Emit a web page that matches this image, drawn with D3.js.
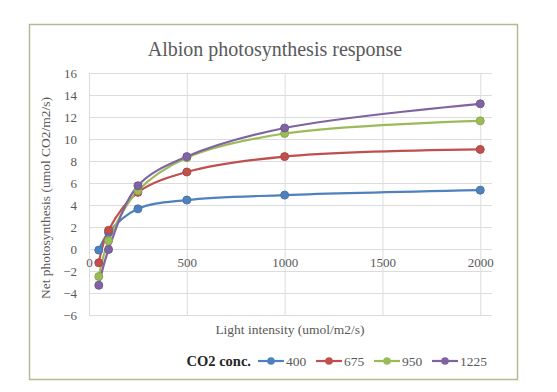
<!DOCTYPE html>
<html><head><meta charset="utf-8">
<script src="https://cdn.jsdelivr.net/npm/d3@7"></script>
<style>body{margin:0;background:#fff}svg{display:block}</style>
</head><body><svg id="c" width="557" height="392"></svg>
<script>
const lightLevels = [50, 100, 250, 500, 1000, 2000];
const seriesNames = ["400", "675", "950", "1225"];
const co2_400  = [-0.1, 1.5, 3.65, 4.45, 4.9, 5.35];
const co2_675  = [-1.25, 1.7, 5.15, 7.0, 8.4, 9.05];
const co2_950  = [-2.5, 0.75, 5.3, 8.3, 10.5, 11.65];
const co2_1225 = [-3.3, -0.05, 5.75, 8.4, 11.0, 13.2];
const seriesColors = ["#4f81bd", "#c0504d", "#9bbb59", "#8064a2"];
const xTicks = [0, 500, 1000, 1500, 2000];
const yTicks = [-6, -4, -2, 0, 2, 4, 6, 8, 10, 12, 14, 16];

const series = [co2_400, co2_675, co2_950, co2_1225];
const svg = d3.select("#c");
const font = "'Liberation Serif', serif";

// chart frame
svg.append("rect").attr("x", 29.5).attr("y", 24.5).attr("width", 488).attr("height", 355)
  .attr("fill", "#fff").attr("stroke", "#b9b994").attr("stroke-width", 1.5);

const x = d3.scaleLinear().domain([0, 2060]).range([89, 492]);
const y = d3.scaleLinear().domain([-6, 16]).range([315, 73]);

// gridlines
svg.append("g").selectAll("line").data(yTicks).join("line")
  .attr("x1", 89).attr("x2", 492).attr("y1", d => y(d) + 0.5).attr("y2", d => y(d) + 0.5)
  .attr("stroke", "#dcdcdc").attr("stroke-width", 1);
svg.append("g").selectAll("line").data(xTicks).join("line")
  .attr("x1", d => x(d) + 0.5).attr("x2", d => x(d) + 0.5).attr("y1", 73).attr("y2", 315)
  .attr("stroke", "#dcdcdc").attr("stroke-width", 1);

// y axis labels
const yAxis = d3.axisLeft(y).tickValues(yTicks).tickSize(0).tickPadding(12).tickFormat(d3.format("d"));
const gy = svg.append("g").attr("transform", "translate(89,0)").call(yAxis);
gy.select(".domain").remove();
gy.selectAll("text").attr("font-family", font).attr("font-size", 13).attr("fill", "#595959");

// x axis labels at y=0
const xAxis = d3.axisBottom(x).tickValues(xTicks).tickSize(0).tickPadding(9).tickFormat(d3.format("d"));
const gx = svg.append("g").attr("transform", `translate(0,${y(0)})`).call(xAxis);
gx.select(".domain").remove();
gx.selectAll("text").attr("font-family", font).attr("font-size", 13).attr("fill", "#595959");

// lines
const line = d3.line().x((d, i) => x(lightLevels[i])).y(d => y(d)).curve(d3.curveCatmullRom.alpha(0.5));
series.forEach((s, k) => {
  svg.append("path").datum(s).attr("d", line).attr("fill", "none")
    .attr("stroke", seriesColors[k]).attr("stroke-width", 2.2);
});
series.forEach((s, k) => {
  svg.append("g").selectAll("circle").data(s).join("circle")
    .attr("cx", (d, i) => x(lightLevels[i])).attr("cy", d => y(d)).attr("r", 4)
    .attr("fill", seriesColors[k]).attr("stroke", d3.color(seriesColors[k]).darker(0.3)).attr("stroke-width", 1);
});

// title
svg.append("text").attr("x", 275).attr("y", 56).attr("text-anchor", "middle")
  .attr("font-family", font).attr("font-size", 20).attr("fill", "#595959")
  .text("Albion photosynthesis response");

// axis titles
svg.append("text").attr("x", 290).attr("y", 334).attr("text-anchor", "middle")
  .attr("font-family", font).attr("font-size", 13.5).attr("fill", "#595959")
  .text("Light intensity (umol/m2/s)");
svg.append("text").attr("transform", "translate(50,198) rotate(-90)").attr("text-anchor", "middle")
  .attr("font-family", font).attr("font-size", 13.5).attr("fill", "#595959")
  .text("Net photosynthesis (umol CO2/m2/s)");

// legend
svg.append("text").attr("x", 251).attr("y", 366).attr("text-anchor", "end").attr("font-family", font).attr("font-size", 14.5)
  .attr("font-weight", "bold").attr("fill", "#262626").text("CO2 conc.");
const legX = [258, 316, 374, 432];
seriesNames.forEach((n, k) => {
  const g = svg.append("g").attr("transform", `translate(${legX[k]},361)`);
  g.append("line").attr("x1", 0).attr("x2", 26).attr("stroke", seriesColors[k]).attr("stroke-width", 2.2);
  g.append("circle").attr("cx", 13).attr("r", 3.8).attr("fill", seriesColors[k]);
  g.append("text").attr("x", 28).attr("y", 4.5).attr("font-family", font).attr("font-size", 13.5)
    .attr("fill", "#595959").text(n);
});
</script></body></html>
